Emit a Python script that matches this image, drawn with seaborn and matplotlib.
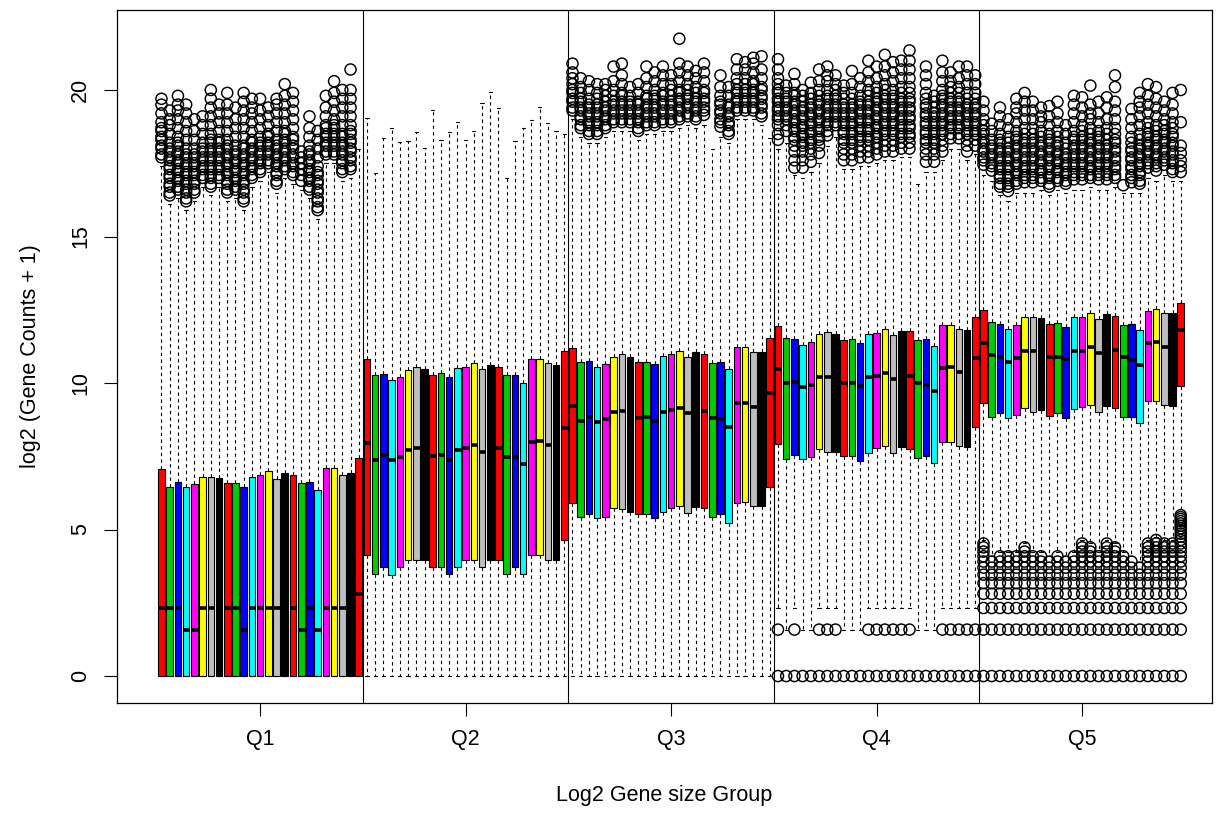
import matplotlib
matplotlib.use("Agg")
import matplotlib.pyplot as plt
from matplotlib.markers import MarkerStyle
import pandas as pd
import seaborn as sns

# gruppi e colori (palette R: red, green3, blue, cyan, magenta, yellow, gray, black)
group_labels = ["Q1", "Q2", "Q3", "Q4", "Q5"]
boxes_per_group = 25
sample_colors = ["#FF0000", "#00CD00", "#0000FF", "#00FFFF", "#FF00FF", "#FFFF00", "#BEBEBE", "#000000"]

# bordo inferiore delle scatole (primo quartile), un gruppo per riga
box_low = (
    [0.0] * 25
    + [4.13, 3.48, 3.71, 3.45, 3.73, 3.96, 3.96, 3.96, 3.71, 3.71, 3.48, 3.71, 3.96, 3.96, 3.71, 3.96, 3.96, 3.48, 3.71, 3.48, 4.13, 4.13, 3.96, 3.96, 4.64]
    + [5.89, 5.42, 5.53, 5.38, 5.44, 5.72, 5.69, 5.61, 5.53, 5.53, 5.38, 5.61, 5.72, 5.80, 5.57, 5.78, 5.72, 5.44, 5.53, 5.23, 5.92, 5.95, 5.80, 5.80, 6.46]
    + [7.92, 7.39, 7.54, 7.39, 7.49, 7.74, 7.66, 7.66, 7.51, 7.51, 7.35, 7.62, 7.77, 7.85, 7.62, 7.81, 7.74, 7.43, 7.51, 7.26, 8.00, 8.00, 7.85, 7.81, 8.49]
    + [9.31, 8.85, 8.96, 8.79, 8.91, 9.14, 9.02, 9.08, 8.87, 8.96, 8.79, 9.10, 9.19, 9.25, 9.02, 9.22, 9.14, 8.85, 8.85, 8.62, 9.40, 9.40, 9.25, 9.22, 9.90]
)
# mediane
box_median = (
    [2.32, 2.32, 2.32, 1.58, 1.58, 2.32, 2.32, 2.32, 2.32, 2.32, 1.58, 2.32, 2.32, 2.32, 2.32, 2.32, 2.32, 1.58, 2.32, 1.58, 2.32, 2.32, 2.32, 2.32, 2.81]
    + [7.94, 7.37, 7.54, 7.37, 7.49, 7.71, 7.77, 7.60, 7.51, 7.54, 7.37, 7.71, 7.79, 7.88, 7.66, 7.70, 7.77, 7.49, 7.49, 7.24, 8.00, 8.03, 7.88, 7.90, 8.45]
    + [9.22, 8.71, 8.83, 8.68, 8.77, 9.02, 9.05, 9.00, 8.79, 8.83, 8.71, 9.00, 9.08, 9.14, 8.97, 9.00, 9.05, 8.79, 8.76, 8.51, 9.31, 9.33, 9.17, 9.20, 9.67]
    + [10.47, 10.01, 10.05, 9.85, 9.93, 10.19, 10.22, 10.20, 10.01, 10.01, 9.90, 10.19, 10.24, 10.35, 10.15, 10.30, 10.24, 10.01, 9.93, 9.74, 10.50, 10.53, 10.39, 10.40, 10.84]
    + [11.35, 10.96, 10.90, 10.73, 10.84, 11.10, 11.10, 11.00, 10.90, 10.90, 10.81, 11.10, 11.10, 11.24, 11.01, 11.10, 11.13, 10.88, 10.78, 10.61, 11.38, 11.40, 11.24, 11.30, 11.81]
)
# bordo superiore delle scatole (terzo quartile)
box_high = (
    [7.06, 6.46, 6.61, 6.44, 6.55, 6.78, 6.80, 6.77, 6.60, 6.60, 6.46, 6.78, 6.85, 7.01, 6.71, 6.92, 6.85, 6.58, 6.62, 6.35, 7.09, 7.11, 6.86, 6.92, 7.43]
    + [10.81, 10.27, 10.31, 10.10, 10.22, 10.44, 10.56, 10.47, 10.27, 10.33, 10.19, 10.50, 10.56, 10.67, 10.47, 10.61, 10.56, 10.27, 10.27, 10.01, 10.81, 10.81, 10.67, 10.61, 11.10]
    + [11.18, 10.73, 10.76, 10.53, 10.65, 10.88, 10.99, 10.90, 10.71, 10.73, 10.65, 10.92, 10.99, 11.10, 10.88, 11.07, 10.99, 10.67, 10.73, 10.47, 11.22, 11.22, 11.07, 11.07, 11.52]
    + [11.95, 11.52, 11.49, 11.30, 11.41, 11.67, 11.73, 11.67, 11.47, 11.49, 11.38, 11.67, 11.72, 11.86, 11.64, 11.79, 11.79, 11.47, 11.49, 11.26, 11.98, 11.98, 11.83, 11.81, 12.24]
    + [12.49, 12.09, 12.03, 11.83, 11.98, 12.24, 12.26, 12.21, 12.01, 12.06, 11.92, 12.24, 12.26, 12.40, 12.17, 12.36, 12.29, 11.98, 12.03, 11.81, 12.47, 12.52, 12.40, 12.38, 12.74]
)
# estremi dei baffi
whisker_low = (
    [0.0] * 25
    + [0.0] * 25
    + [0.0] * 25
    + [2.322, 1.585, 2.322, 1.585, 1.585, 2.322, 2.322, 2.322, 1.585, 1.585, 1.585, 2.322, 2.322, 2.322, 2.322, 2.322, 2.322, 1.585, 1.585, 1.585, 2.322, 2.322, 2.322, 2.322, 2.322]
    + [4.644, 4.087, 4.248, 4.248, 4.248, 4.524, 4.248, 4.248, 4.087, 4.248, 4.087, 4.248, 4.644, 4.524, 4.248, 4.644, 4.524, 4.248, 4.087, 3.907, 4.644, 4.755, 4.644, 4.644, 5.555]
)
whisker_high = (
    [17.4, 16.1, 16.3, 15.9, 16.2, 16.7, 16.4, 16.7, 16.2, 16.3, 15.9, 16.7, 16.9, 17.2, 16.5, 17.0, 16.8, 16.6, 16.3, 15.6, 17.5, 17.5, 16.9, 17.0, 18.0]
    + [19.06, 17.18, 18.37, 18.72, 18.21, 18.27, 18.58, 18.01, 19.32, 18.29, 18.58, 18.92, 18.29, 18.61, 19.57, 19.92, 19.40, 17.00, 18.27, 18.69, 18.98, 19.43, 18.86, 18.61, 18.50]
    + [19.0, 18.4, 18.2, 18.2, 18.4, 18.6, 18.6, 18.6, 18.3, 18.5, 18.5, 18.6, 18.6, 18.7, 18.8, 18.7, 18.8, 18.0, 18.4, 18.2, 19.0, 19.0, 19.0, 18.8, 18.35]
    + [18.0, 18.2, 17.1, 17.0, 17.2, 17.5, 18.1, 18.4, 17.3, 17.3, 17.4, 17.4, 17.5, 17.6, 17.6, 17.7, 17.7, 16.8, 17.2, 17.2, 17.6, 18.0, 18.0, 17.6, 17.8]
    + [17.1, 16.9, 16.4, 16.2, 16.5, 16.5, 16.5, 16.6, 16.4, 16.6, 16.5, 16.6, 16.6, 16.7, 16.6, 16.6, 16.7, 16.5, 16.5, 16.5, 17.0, 16.9, 17.1, 16.9, 16.9]
)

# valori discreti log2 presenti in basso (righe di outlier sotto i baffi)
count_levels = [0.0, 1.585, 2.322, 2.807, 3.17, 3.459, 3.70, 3.907, 4.087, 4.248, 4.392, 4.524, 4.644, 4.755, 4.858, 4.954, 5.044, 5.129, 5.209, 5.285, 5.358, 5.426, 5.492]

# outlier sopra i baffi, una lista per campione
top_outliers = [
    # Q1
    [17.7, 17.8, 18.0, 18.1, 18.3, 18.4, 18.6, 18.7, 18.9, 19.2, 19.5, 19.7],
    [16.4, 16.5, 16.7, 16.8, 17.0, 17.1, 17.3, 17.4, 17.6, 17.7, 17.9, 18.0, 18.2, 18.5, 18.8, 19.0, 19.3],
    [16.6, 16.7, 16.9, 17.0, 17.2, 17.3, 17.5, 17.6, 17.8, 17.9, 18.1, 18.2, 18.4, 18.7, 19.0, 19.3, 19.5, 19.8],
    [16.2, 16.3, 16.5, 16.6, 16.8, 16.9, 17.1, 17.2, 17.4, 17.5, 17.7, 17.8, 18.0, 18.3, 18.6, 18.9, 19.2, 19.5],
    [16.5, 16.6, 16.8, 16.9, 17.1, 17.2, 17.4, 17.5, 17.7, 17.8, 18.0, 18.3, 18.6, 19.0],
    [17.0, 17.1, 17.3, 17.4, 17.6, 17.7, 17.9, 18.0, 18.2, 18.5, 18.8, 19.1],
    [16.7, 16.8, 17.0, 17.1, 17.3, 17.4, 17.6, 17.7, 17.9, 18.0, 18.2, 18.3, 18.5, 18.8, 19.1, 19.4, 19.7, 20.0],
    [17.0, 17.1, 17.3, 17.4, 17.6, 17.7, 17.9, 18.0, 18.2, 18.3, 18.6, 18.9, 19.2, 19.5],
    [16.5, 16.6, 16.8, 16.9, 17.1, 17.2, 17.4, 17.5, 17.7, 17.8, 18.0, 18.1, 18.3, 18.6, 18.9, 19.2, 19.5, 19.9],
    [16.6, 16.7, 16.9, 17.0, 17.2, 17.3, 17.5, 17.6, 17.8, 17.9, 18.1, 18.4, 18.7, 19.0, 19.4],
    [16.2, 16.3, 16.5, 16.6, 16.8, 16.9, 17.1, 17.2, 17.4, 17.5, 17.7, 17.8, 18.0, 18.1, 18.4, 18.7, 19.0, 19.3, 19.6, 19.9],
    [17.0, 17.1, 17.3, 17.4, 17.6, 17.7, 17.9, 18.0, 18.2, 18.3, 18.6, 18.9, 19.2, 19.4, 19.7],
    [17.2, 17.3, 17.5, 17.6, 17.8, 17.9, 18.1, 18.2, 18.4, 18.7, 19.0, 19.3, 19.7],
    [17.5, 17.6, 17.8, 17.9, 18.1, 18.2, 18.4, 18.5, 18.8, 19.1, 19.4],
    [16.8, 16.9, 17.1, 17.2, 17.4, 17.5, 17.7, 17.8, 18.0, 18.1, 18.3, 18.6, 18.9, 19.2, 19.5, 19.7],
    [17.3, 17.4, 17.6, 17.7, 17.9, 18.0, 18.2, 18.3, 18.5, 18.6, 18.9, 19.2, 19.5, 19.8, 20.2],
    [17.1, 17.2, 17.4, 17.5, 17.7, 17.8, 18.0, 18.1, 18.3, 18.4, 18.7, 19.0, 19.3, 19.6, 19.9],
    [16.9, 17.1, 17.3, 17.5, 17.7, 17.9],
    [16.6, 16.7, 16.9, 17.0, 17.2, 17.3, 17.5, 17.6, 17.8, 17.9, 18.1, 18.4, 18.7, 19.1],
    [15.9, 16.0, 16.2, 16.3, 16.5, 16.6, 16.8, 16.9, 17.1, 17.2, 17.4, 17.7, 18.0, 18.3, 18.6],
    [17.8, 17.9, 18.1, 18.2, 18.4, 18.5, 18.7, 18.8, 19.1, 19.4, 19.8],
    [17.8, 17.9, 18.1, 18.2, 18.4, 18.5, 18.7, 18.8, 19.0, 19.3, 19.6, 19.9, 20.3],
    [17.2, 17.3, 17.5, 17.6, 17.8, 17.9, 18.1, 18.2, 18.4, 18.5, 18.8, 19.1, 19.4, 19.7, 20.0],
    [17.3, 17.4, 17.6, 17.7, 17.9, 18.0, 18.2, 18.3, 18.5, 18.6, 18.8, 19.1, 19.4, 19.7, 20.0, 20.7],
    [],
    # Q2 (nessun outlier)
    [], [], [], [], [], [], [], [], [], [], [], [], [], [], [], [], [], [], [], [], [], [], [], [], [],
    # Q3
    [19.3, 19.4, 19.6, 19.7, 19.9, 20.0, 20.2, 20.4, 20.6, 20.9],
    [18.7, 18.8, 19.0, 19.1, 19.3, 19.4, 19.6, 19.7, 19.9, 20.1, 20.4],
    [18.5, 18.6, 18.8, 18.9, 19.1, 19.2, 19.4, 19.5, 19.7, 20.0, 20.3],
    [18.5, 18.6, 18.8, 18.9, 19.1, 19.2, 19.4, 19.5, 19.7, 19.9, 20.2],
    [18.7, 18.8, 19.0, 19.1, 19.3, 19.4, 19.6, 19.8, 20.0, 20.2],
    [18.9, 19.0, 19.2, 19.3, 19.5, 19.6, 19.8, 20.0, 20.3, 20.8],
    [18.9, 19.0, 19.2, 19.3, 19.5, 19.6, 19.8, 19.9, 20.2, 20.5, 20.9],
    [18.9, 19.0, 19.2, 19.3, 19.5, 19.6, 19.8, 20.1],
    [18.6, 18.7, 18.9, 19.0, 19.2, 19.3, 19.5, 19.6, 19.9, 20.2],
    [18.8, 18.9, 19.1, 19.2, 19.4, 19.5, 19.7, 19.8, 20.1, 20.4, 20.8],
    [18.8, 18.9, 19.1, 19.2, 19.4, 19.5, 19.7, 19.8, 20.0, 20.3, 20.6],
    [18.9, 19.0, 19.2, 19.3, 19.5, 19.6, 19.8, 19.9, 20.2, 20.5, 20.8],
    [18.9, 19.0, 19.2, 19.3, 19.5, 19.6, 19.8, 20.0, 20.2, 20.5],
    [19.0, 19.1, 19.3, 19.4, 19.6, 19.7, 19.9, 20.0, 20.3, 20.6, 20.9, 21.75],
    [19.1, 19.2, 19.4, 19.5, 19.7, 19.8, 20.0, 20.2, 20.5, 20.8],
    [19.0, 19.1, 19.3, 19.4, 19.6, 19.7, 19.9, 20.1, 20.4, 20.65],
    [19.15, 19.3, 19.4, 19.6, 19.7, 19.9, 20.0, 20.3, 20.6, 20.9],
    [],
    [18.75, 18.9, 19.0, 19.2, 19.3, 19.5, 19.6, 19.8, 20.1, 20.5],
    [18.5, 18.6, 18.8, 18.9, 19.1, 19.2, 19.4, 19.5, 19.8, 20.1],
    [19.3, 19.4, 19.6, 19.7, 19.9, 20.0, 20.2, 20.4, 20.7, 21.05],
    [19.3, 19.4, 19.6, 19.7, 19.9, 20.0, 20.2, 20.4, 20.7, 20.95],
    [19.3, 19.4, 19.6, 19.7, 19.9, 20.0, 20.2, 20.3, 20.6, 20.9, 21.1],
    [19.1, 19.2, 19.4, 19.5, 19.7, 19.8, 20.0, 20.1, 20.4, 20.7, 21.15],
    [],
    # Q4
    [18.3, 18.5, 18.8, 19.0, 19.1, 19.3, 19.4, 19.6, 19.7, 19.9, 20.0, 20.2, 20.4, 20.7, 21.05],
    [18.6, 18.8, 19.0, 19.1, 19.3, 19.4, 19.6, 19.7, 19.9, 20.15],
    [17.35, 17.6, 17.9, 18.1, 18.3, 18.4, 18.6, 18.7, 18.9, 19.0, 19.2, 19.3, 19.5, 19.6, 19.8, 19.9, 20.2, 20.55],
    [17.35, 17.6, 17.9, 18.1, 18.2, 18.4, 18.5, 18.7, 18.8, 19.0, 19.1, 19.3, 19.4, 19.6, 19.8, 20.0],
    [17.55, 17.8, 18.0, 18.2, 18.3, 18.5, 18.6, 18.8, 18.9, 19.1, 19.2, 19.4, 19.5, 19.7, 19.9, 20.25],
    [17.85, 18.1, 18.3, 18.4, 18.6, 18.7, 18.9, 19.0, 19.2, 19.3, 19.5, 19.6, 19.8, 20.0, 20.3, 20.7],
    [18.45, 18.6, 18.8, 18.9, 19.1, 19.2, 19.4, 19.5, 19.7, 19.8, 20.0, 20.3, 20.5, 20.8],
    [18.8, 18.9, 19.1, 19.2, 19.4, 19.5, 19.7, 19.8, 20.0, 20.2, 20.5],
    [17.6, 17.8, 18.0, 18.2, 18.3, 18.5, 18.6, 18.8, 18.9, 19.1, 19.2, 19.4, 19.5, 19.7, 19.9, 20.15],
    [17.6, 17.8, 18.0, 18.2, 18.3, 18.5, 18.6, 18.8, 18.9, 19.1, 19.2, 19.4, 19.5, 19.7, 19.9, 20.2, 20.65],
    [17.7, 17.9, 18.1, 18.3, 18.4, 18.6, 18.7, 18.9, 19.0, 19.2, 19.3, 19.5, 19.6, 19.8, 20.1, 20.4],
    [17.7, 17.9, 18.1, 18.3, 18.4, 18.6, 18.7, 18.9, 19.0, 19.2, 19.3, 19.5, 19.6, 19.8, 20.0, 20.3, 20.6, 21.0],
    [17.8, 18.0, 18.2, 18.4, 18.5, 18.7, 18.8, 19.0, 19.1, 19.3, 19.4, 19.6, 19.7, 19.9, 20.1, 20.4, 20.8],
    [17.9, 18.1, 18.3, 18.5, 18.6, 18.8, 18.9, 19.1, 19.2, 19.4, 19.5, 19.7, 19.8, 20.0, 20.2, 20.5, 20.8, 21.2],
    [17.9, 18.1, 18.3, 18.5, 18.6, 18.8, 18.9, 19.1, 19.2, 19.4, 19.5, 19.7, 19.8, 20.0, 20.3, 20.6, 20.95],
    [18.0, 18.2, 18.4, 18.5, 18.7, 18.8, 19.0, 19.1, 19.3, 19.4, 19.6, 19.7, 19.9, 20.1, 20.4, 20.7, 21.0],
    [18.0, 18.2, 18.4, 18.5, 18.7, 18.8, 19.0, 19.1, 19.3, 19.4, 19.6, 19.7, 19.9, 20.1, 20.4, 20.7, 21.0, 21.35],
    [],
    [17.55, 17.8, 18.0, 18.2, 18.3, 18.5, 18.6, 18.8, 18.9, 19.1, 19.2, 19.4, 19.5, 19.7, 19.9, 20.2, 20.5, 20.8],
    [17.55, 17.8, 18.0, 18.2, 18.3, 18.5, 18.6, 18.8, 18.9, 19.1, 19.2, 19.4, 19.6, 19.8],
    [17.9, 18.1, 18.3, 18.5, 18.6, 18.8, 18.9, 19.1, 19.2, 19.4, 19.5, 19.7, 19.8, 20.0, 20.3, 20.6, 21.0],
    [18.35, 18.5, 18.7, 18.8, 19.0, 19.1, 19.3, 19.4, 19.6, 19.7, 19.9, 20.1, 20.3, 20.6],
    [18.35, 18.5, 18.7, 18.8, 19.0, 19.1, 19.3, 19.4, 19.6, 19.7, 19.9, 20.1, 20.4, 20.8],
    [17.9, 18.1, 18.3, 18.5, 18.6, 18.8, 18.9, 19.1, 19.2, 19.4, 19.5, 19.7, 19.9, 20.2, 20.5, 20.8],
    [18.1, 18.3, 18.5, 18.6, 18.8, 18.9, 19.1, 19.2, 19.4, 19.5, 19.7, 19.9, 20.2, 20.5],
    # Q5
    [17.45, 17.6, 17.7, 17.9, 18.0, 18.2, 18.3, 18.5, 18.6, 18.8, 19.0, 19.3, 19.6],
    [17.25, 17.4, 17.5, 17.7, 17.8, 18.0, 18.1, 18.3, 18.6, 18.85],
    [16.7, 16.8, 17.0, 17.1, 17.3, 17.4, 17.6, 17.7, 17.9, 18.0, 18.2, 18.3, 18.5, 18.8, 19.1, 19.4],
    [16.55, 16.7, 16.8, 17.0, 17.1, 17.3, 17.4, 17.6, 17.7, 17.9, 18.0, 18.2, 18.4, 18.7, 19.0],
    [16.8, 16.9, 17.1, 17.2, 17.4, 17.5, 17.7, 17.8, 18.0, 18.1, 18.3, 18.4, 18.6, 18.9, 19.2, 19.4, 19.7],
    [16.85, 17.0, 17.1, 17.3, 17.4, 17.6, 17.7, 17.9, 18.0, 18.2, 18.3, 18.5, 18.7, 19.0, 19.3, 19.6, 19.9],
    [16.85, 17.0, 17.1, 17.3, 17.4, 17.6, 17.7, 17.9, 18.0, 18.2, 18.3, 18.5, 18.7, 19.0, 19.3, 19.6],
    [16.9, 17.0, 17.2, 17.3, 17.5, 17.6, 17.8, 17.9, 18.1, 18.2, 18.4, 18.6, 18.9, 19.1, 19.4],
    [16.7, 16.8, 17.0, 17.1, 17.3, 17.4, 17.6, 17.7, 17.9, 18.0, 18.2, 18.3, 18.5, 18.8, 19.1, 19.45],
    [16.9, 17.0, 17.2, 17.3, 17.5, 17.6, 17.8, 17.9, 18.1, 18.2, 18.4, 18.6, 18.9, 19.2, 19.6],
    [16.8, 16.9, 17.1, 17.2, 17.4, 17.5, 17.7, 17.8, 18.0, 18.2, 18.5, 18.8],
    [16.95, 17.1, 17.2, 17.4, 17.5, 17.7, 17.8, 18.0, 18.1, 18.3, 18.4, 18.6, 18.9, 19.2, 19.5, 19.8],
    [16.95, 17.1, 17.2, 17.4, 17.5, 17.7, 17.8, 18.0, 18.1, 18.3, 18.4, 18.6, 18.8, 19.1, 19.4, 19.75],
    [17.0, 17.1, 17.3, 17.4, 17.6, 17.7, 17.9, 18.0, 18.2, 18.3, 18.5, 18.7, 19.0, 19.2, 19.5, 20.15],
    [16.95, 17.1, 17.2, 17.4, 17.5, 17.7, 17.8, 18.0, 18.1, 18.3, 18.4, 18.6, 18.9, 19.2, 19.6],
    [16.95, 17.1, 17.2, 17.4, 17.5, 17.7, 17.8, 18.0, 18.1, 18.3, 18.5, 18.7, 19.0, 19.4, 19.75],
    [17.0, 17.1, 17.3, 17.4, 17.6, 17.7, 17.9, 18.0, 18.2, 18.3, 18.5, 18.7, 19.0, 19.3, 19.6, 20.1, 20.5],
    [16.75],
    [16.85, 17.0, 17.1, 17.3, 17.4, 17.6, 17.7, 17.9, 18.0, 18.2, 18.4, 18.7, 19.0, 19.35],
    [16.8, 16.9, 17.1, 17.2, 17.4, 17.5, 17.7, 17.8, 18.0, 18.1, 18.3, 18.5, 18.8, 19.1, 19.4, 19.6, 19.9],
    [17.35, 17.5, 17.6, 17.8, 17.9, 18.1, 18.2, 18.4, 18.5, 18.7, 18.9, 19.2, 19.5, 19.8, 20.2],
    [17.25, 17.4, 17.5, 17.7, 17.8, 18.0, 18.1, 18.3, 18.4, 18.6, 18.8, 19.1, 19.4, 19.7, 20.1],
    [17.45, 17.6, 17.7, 17.9, 18.0, 18.2, 18.3, 18.5, 18.6, 18.8, 19.0, 19.3, 19.6],
    [17.2, 17.3, 17.5, 17.6, 17.8, 17.9, 18.1, 18.2, 18.4, 18.5, 18.7, 18.9, 19.2, 19.5, 19.9],
    [17.2, 17.4, 17.6, 17.85, 18.1, 18.9, 20.0],
]

n_boxes = len(box_median)
sample_ids = [f"s{i:03d}" for i in range(n_boxes)]

# per ogni campione cinque valori: baffo basso, Q1, mediana, Q3, baffo alto
righe = []
for i in range(n_boxes):
    for v in (whisker_low[i], box_low[i], box_median[i], box_high[i], whisker_high[i]):
        righe.append({"campione": sample_ids[i], "valore": v})
df_box = pd.DataFrame(righe)

# outlier: sopra (liste) e sotto (livelli discreti sotto il baffo)
out_x, out_y = [], []
for i in range(n_boxes):
    for v in top_outliers[i]:
        out_x.append(i)
        out_y.append(v)
    for v in count_levels:
        if v < whisker_low[i] - 1e-6:
            out_x.append(i)
            out_y.append(v)
df_out = pd.DataFrame({"pos": out_x, "valore": out_y})

palette = {sample_ids[i]: sample_colors[(i % boxes_per_group) % len(sample_colors)] for i in range(n_boxes)}

sns.set_theme(style="ticks")
plt.rcParams["font.family"] = ["Liberation Sans", "DejaVu Sans"]

fig = plt.figure(figsize=(12.26, 8.17), dpi=100)
ax = fig.add_axes([117 / 1226, 114 / 817, 1095 / 1226, 693 / 817])

sns.boxplot(data=df_box, x="campione", y="valore", hue="campione", palette=palette, legend=False,
            width=0.8, whis=(0, 100), showfliers=False, saturation=1,
            linecolor="black", linewidth=0.8,
            medianprops=dict(linewidth=2.6, color="black", solid_capstyle="butt"),
            whiskerprops=dict(linestyle=(0, (3, 3)), linewidth=0.8),
            capprops=dict(linewidth=0.8),
            ax=ax)

# cerchi vuoti per gli outlier
sns.scatterplot(data=df_out, x="pos", y="valore", marker=MarkerStyle("o", fillstyle="none"),
                color="black", s=64, linewidth=1.05, legend=False, zorder=3, ax=ax)

# separatori tra i gruppi
for k in range(1, len(group_labels)):
    ax.axvline(k * boxes_per_group - 0.5, color="black", linewidth=0.8, zorder=4)

ax.set_xlim(-5.41, 127.8)
ax.set_ylim(-0.92, 22.73)
centri = [k * boxes_per_group + (boxes_per_group - 1) / 2 for k in range(len(group_labels))]
ax.set_xticks(centri)
ax.set_xticklabels(group_labels, fontsize=15.5)
ax.set_yticks([0, 5, 10, 15, 20])
ax.set_yticklabels(["0", "5", "10", "15", "20"], fontsize=15.5, rotation=90, va="center")
ax.tick_params(direction="out", length=9.5, width=0.8, color="black", pad=9, labelcolor="black")

ax.set_xlabel("Log2 Gene size Group", fontsize=15.5, color="black")
ax.set_ylabel("log2 (Gene Counts + 1)", fontsize=15.5, color="black")
ax.xaxis.label.set_va("center")
ax.yaxis.label.set_va("center")
ax.xaxis.set_label_coords(0.5, -0.134)
ax.yaxis.set_label_coords(-0.079, 0.5)

for s in ax.spines.values():
    s.set_visible(True)
    s.set_color("black")
    s.set_linewidth(0.9)

fig.savefig("out.png", dpi=100)
